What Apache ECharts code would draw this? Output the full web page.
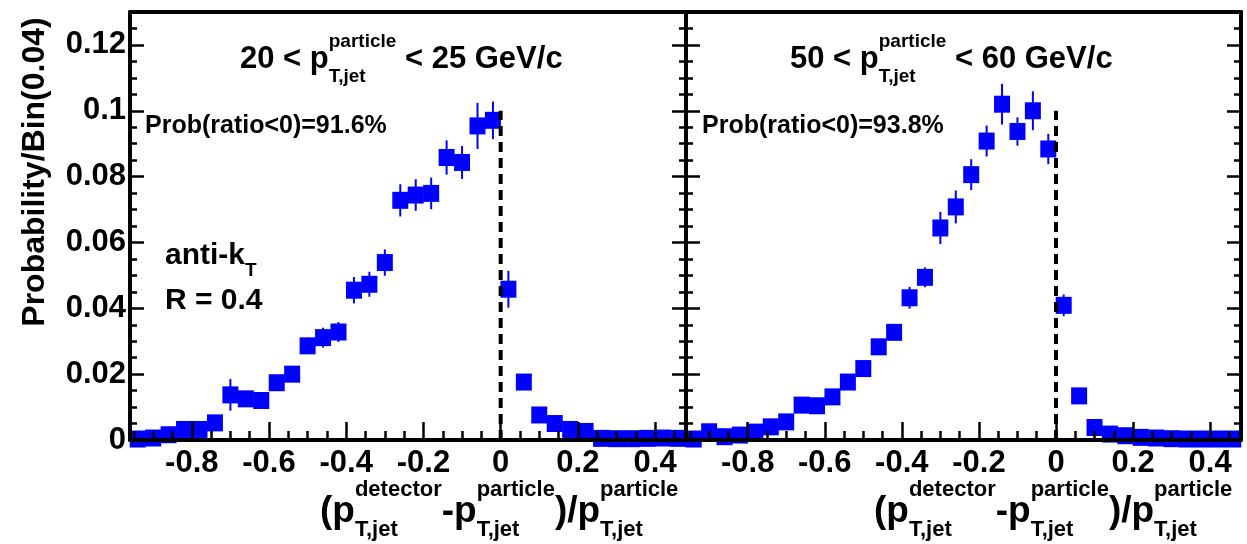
<!DOCTYPE html>
<html><head><meta charset="utf-8">
<script src="https://cdn.jsdelivr.net/npm/echarts@6/dist/echarts.min.js"></script>
<style>html,body{margin:0;padding:0;background:#fff}#c{width:1247px;height:544px}</style>
</head><body><div id="c"></div>
<script>
// ---------- data ----------
const binCenters = [-0.94,-0.90,-0.86,-0.82,-0.78,-0.74,-0.70,-0.66,-0.62,-0.58,-0.54,-0.50,-0.46,-0.42,-0.38,-0.34,-0.30,-0.26,-0.22,-0.18,-0.14,-0.10,-0.06,-0.02,0.02,0.06,0.10,0.14,0.18,0.22,0.26,0.30,0.34,0.38,0.42,0.46];
// 20 < pT < 25 GeV/c
const probLow = [0.0003,0.0006,0.0016,0.0032,0.0032,0.0052,0.0137,0.0125,0.0120,0.0174,0.0200,0.0286,0.0311,0.0328,0.0455,0.0473,0.0539,0.0728,0.0744,0.0749,0.0858,0.0843,0.0954,0.0971,0.0458,0.0176,0.0076,0.0050,0.0032,0.0026,0.0005,0.0004,0.0004,0.0005,0.0006,0.0005];
const errLow  = [0.0010,0.0010,0.0012,0.0012,0.0012,0.0015,0.0048,0.0020,0.0020,0.0020,0.0020,0.0025,0.0030,0.0030,0.0040,0.0038,0.0040,0.0049,0.0048,0.0048,0.0052,0.0050,0.0070,0.0057,0.0056,0.0020,0.0012,0.0010,0.0010,0.0010,0.0008,0.0008,0.0008,0.0008,0.0008,0.0008];
// 50 < pT < 60 GeV/c
const probHigh = [0.0003,0.0025,0.0010,0.0015,0.0024,0.0040,0.0055,0.0106,0.0104,0.0131,0.0176,0.0217,0.0283,0.0327,0.0432,0.0494,0.0644,0.0708,0.0806,0.0908,0.1020,0.0937,0.1000,0.0884,0.0409,0.0134,0.0038,0.0018,0.0013,0.0008,0.0006,0.0004,0.0003,0.0003,0.0003,0.0003];
const errHigh  = [0.0008,0.0010,0.0008,0.0008,0.0010,0.0012,0.0012,0.0015,0.0015,0.0018,0.0018,0.0020,0.0020,0.0022,0.0033,0.0030,0.0049,0.0050,0.0047,0.0047,0.0062,0.0043,0.0059,0.0046,0.0033,0.0012,0.0008,0.0006,0.0006,0.0005,0.0005,0.0005,0.0005,0.0005,0.0005,0.0005];

const xMajorTicks = [-0.8,-0.6,-0.4,-0.2,0,0.2,0.4];
const xMinorTicks = [-0.95,-0.9,-0.85,-0.75,-0.7,-0.65,-0.55,-0.5,-0.45,-0.35,-0.3,-0.25,-0.15,-0.1,-0.05,0.05,0.1,0.15,0.25,0.3,0.35,0.45];
const yMajorTicks = [0,0.02,0.04,0.06,0.08,0.1,0.12];
const yMinorTicks = [0.005,0.01,0.015,0.025,0.03,0.035,0.045,0.05,0.055,0.065,0.07,0.075,0.085,0.09,0.095,0.105,0.11,0.115,0.125];
const cutLine = [[0,0],[0,0.1]];

const panelLo = ['20','50'];
const panelHi = ['25','60'];
const probTexts = ['Prob(ratio<0)=91.6%','Prob(ratio<0)=93.8%'];
const yTitle = 'Probability/Bin(0.04)';

const X_MIN = -0.96, X_MAX = 0.48, Y_MIN = 0, Y_MAX = 0.13;

// ---------- helpers ----------
const FF = '"Liberation Sans", Arial, Helvetica, sans-serif';
const mctx = document.createElement('canvas').getContext('2d');
function tw(text, size){ mctx.font = 'bold ' + size + 'px ' + FF; return mctx.measureText(text).width; }
function txt(text, x, baseline, size, extra){
  return Object.assign({
    type:'text', x:x, y: baseline - 0.3465*size, silent:true, z:50,
    style:{text:text, fill:'#000', fontSize:size, fontWeight:'bold', fontFamily:FF,
           align:'left', verticalAlign:'middle'}
  }, extra||{});
}
function formula(x0, baseline, parts){
  let x = x0; const els = [];
  for (const p of parts){
    if (p.main !== undefined){ els.push(txt(p.main, x, baseline, p.size)); x += tw(p.main, p.size); }
    else {
      els.push(txt(p.sup, x, baseline + p.supDy, p.size));
      els.push(txt(p.sub, x, baseline + p.subDy, p.size));
      x += Math.max(tw(p.sup, p.size), tw(p.sub, p.size)) + (p.gap||0);
    }
  }
  return els;
}
function titleParts(lo, hi){
  return [
    {main: lo + ' < p', size:31},
    {sup:'particle', sub:'T,jet', size:19, supDy:-22, subDy:13},
    {main: ' < ' + hi + ' GeV/c', size:31}
  ];
}
function xTitleParts(){
  const S = 22, sd = -27, bd = 13, M = 37;
  return [
    {main:'(p', size:M},
    {sup:'detector', sub:'T,jet', size:S, supDy:sd, subDy:bd},
    {main:'-p', size:M},
    {sup:'particle', sub:'T,jet', size:S, supDy:sd, subDy:bd},
    {main:')/p', size:M},
    {sup:'particle', sub:'T,jet', size:S, supDy:sd, subDy:bd}
  ];
}

const tickStyle = {color:'#000', width:2.5};
function xAxes(gi){
  return [
    {gridIndex:gi, type:'value', min:X_MIN, max:X_MAX, position:'bottom', z:10,
     axisLine:{show:true, onZero:false, lineStyle:{color:'#000', width:4}},
     axisTick:{show:true, inside:true, length:18, customValues:xMajorTicks, lineStyle:tickStyle},
     axisLabel:{show:true, customValues:xMajorTicks, margin:8, fontSize:31, fontWeight:'bold', fontFamily:FF, color:'#000',
                formatter:v=>String(+v.toFixed(2))},
     splitLine:{show:false}},
    {gridIndex:gi, type:'value', min:X_MIN, max:X_MAX, position:'bottom', z:10,
     axisLine:{show:false, onZero:false},
     axisTick:{show:true, inside:true, length:9, customValues:xMinorTicks, lineStyle:tickStyle},
     axisLabel:{show:false}, splitLine:{show:false}},
    {gridIndex:gi, type:'value', min:X_MIN, max:X_MAX, position:'top', z:10,
     axisLine:{show:true, onZero:false, lineStyle:{color:'#000', width:4}},
     axisTick:{show:false}, axisLabel:{show:false}, splitLine:{show:false}}
  ];
}
function yAxes(gi, labels){
  const base = {gridIndex:gi, type:'value', min:Y_MIN, max:Y_MAX, z:10, splitLine:{show:false}};
  return [
    Object.assign({}, base, {position:'left',
      axisLine:{show:true, onZero:false, lineStyle:{color:'#000', width:4}},
      axisTick:{show:true, inside:true, length:14, customValues:yMajorTicks, lineStyle:tickStyle},
      axisLabel: labels ? {show:true, customValues:yMajorTicks, margin:4, fontSize:31, fontWeight:'bold', fontFamily:FF, color:'#000',
                           formatter:v=>String(+v.toFixed(3))} : {show:false}}),
    Object.assign({}, base, {position:'left', axisLine:{show:false, onZero:false},
      axisTick:{show:true, inside:true, length:7, customValues:yMinorTicks, lineStyle:tickStyle}, axisLabel:{show:false}}),
    Object.assign({}, base, {position:'right',
      axisLine:{show:true, onZero:false, lineStyle:{color:'#000', width:4}},
      axisTick:{show:true, inside:true, length:14, customValues:yMajorTicks, lineStyle:tickStyle}, axisLabel:{show:false}}),
    Object.assign({}, base, {position:'right', axisLine:{show:false, onZero:false},
      axisTick:{show:true, inside:true, length:7, customValues:yMinorTicks, lineStyle:tickStyle}, axisLabel:{show:false}})
  ];
}
function panelSeries(vals, errs, xi, yi){
  const pts = binCenters.map((x,i)=>[x, vals[i]]);
  const ebs = binCenters.map((x,i)=>[x, vals[i], errs[i]]);
  return [
    {type:'custom', xAxisIndex:xi, yAxisIndex:yi, z:3, data:ebs, encode:{x:0, y:1}, silent:true,
     renderItem:(params, api)=>{
       const x = api.value(0), y = api.value(1), e = api.value(2);
       const a = api.coord([x, y - e]), b = api.coord([x, y + e]);
       return {type:'line', shape:{x1:a[0], y1:a[1], x2:b[0], y2:b[1]}, style:{stroke:'#0000ff', lineWidth:2}};
     }},
    {type:'scatter', xAxisIndex:xi, yAxisIndex:yi, z:4, data:pts, symbol:'rect', symbolSize:[16,17],
     itemStyle:{color:'#0000ff', opacity:1}, silent:true},
    {type:'line', xAxisIndex:xi, yAxisIndex:yi, z:5, data:cutLine, symbol:'none', silent:true,
     lineStyle:{color:'#000', width:4, type:[10,6], opacity:1}}
  ];
}

// ---------- graphics (text) ----------
const graphics = [];
graphics.push(...formula(240, 70, titleParts(panelLo[0], panelHi[0])));
graphics.push(...formula(790, 70, titleParts(panelLo[1], panelHi[1])));
graphics.push(txt(probTexts[0], 145, 135, 25));
graphics.push(txt(probTexts[1], 702, 135, 25));
graphics.push(...formula(165, 266, [{main:'anti-k', size:30}, {sup:'', sub:'T', size:19, supDy:0, subDy:11}]));
graphics.push(txt('R = 0.4', 165, 311, 30));
graphics.push(...formula(320, 525, xTitleParts()));
graphics.push(...formula(874, 525, xTitleParts()));
graphics.push({type:'text', x:35, y:172, rotation:Math.PI/2, silent:true, z:50,
  style:{text:yTitle, fill:'#000', fontSize:32, fontWeight:'bold', fontFamily:FF, align:'center', verticalAlign:'middle'}});

const chart = echarts.init(document.getElementById('c'), null, {renderer:'canvas'});
chart.setOption({
  animation:false,
  backgroundColor:'#fff',
  grid:[
    {left:130, top:12, width:556, height:428, outerBoundsMode:'none', containLabel:false},
    {left:686, top:12, width:555, height:428, outerBoundsMode:'none', containLabel:false}
  ],
  xAxis:[...xAxes(0), ...xAxes(1)],
  yAxis:[...yAxes(0, true), ...yAxes(1, false)],
  series:[...panelSeries(probLow, errLow, 0, 0), ...panelSeries(probHigh, errHigh, 3, 4)],
  graphic:{elements:graphics}
});
</script></body></html>
